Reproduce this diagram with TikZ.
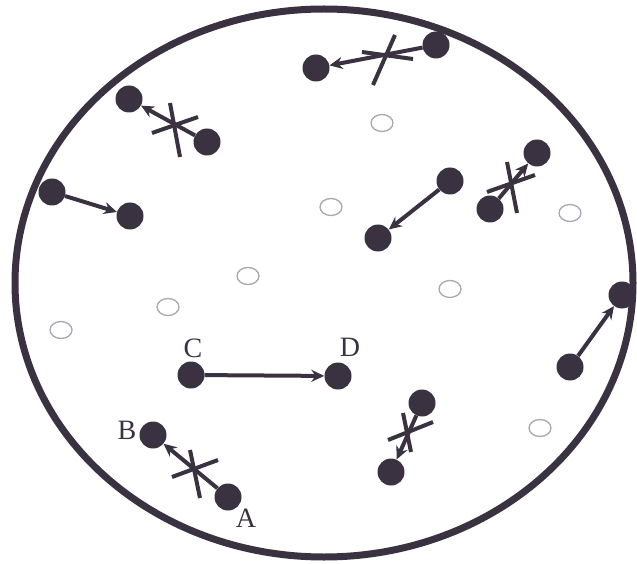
\documentclass[tikz,border=0pt]{standalone}
\usepackage{fontspec}
\setmainfont{Liberation Serif}
\usetikzlibrary{arrows.meta,shapes.geometric}
\definecolor{ink}{HTML}{3A3240}
\definecolor{hollow}{HTML}{A8A6B4}
\begin{document}
\begin{tikzpicture}[x=1pt,y=-1pt,
  dot/.style={circle,fill=ink,inner sep=0pt,minimum size=27pt},
  hole/.style={ellipse,draw=hollow,line width=1.3pt,inner sep=0pt,minimum width=22pt,minimum height=17pt},
  move/.style={draw=ink,line width=4pt,-{Stealth[length=13pt,width=12pt]}},
  cross/.style={draw=ink,line width=4pt},
  lab/.style={font=\fontsize{28}{28}\selectfont,text=ink,inner sep=0pt}]
\useasboundingbox (0,0) rectangle (637,564);
\fill[white] (0,0) rectangle (637,564);
\draw[ink,line width=7pt] (324,283) ellipse [x radius=309, y radius=274];
% hollow circles
\node[hole] (h1) at (382,123) {};
\node[hole] (h2) at (331,207) {};
\node[hole] (h3) at (570,213) {};
\node[hole] (h4) at (248,276) {};
\node[hole] (h5) at (168,307) {};
\node[hole] (h6) at (61,330) {};
\node[hole] (h7) at (450,289) {};
\node[hole] (h8) at (540,428) {};
% pair 1 (top)
\node[dot] (p1a) at (316,68) {};
\node[dot] (p1b) at (436,45) {};
\draw[move] (p1b) -- (p1a);
\draw[cross] (395,35) -- (373,85);
\draw[cross] (362,52) -- (413,59);
% pair 2 (upper left)
\node[dot] (p2a) at (129,99) {};
\node[dot] (p2b) at (207,142) {};
\draw[move] (p2b) -- (p2a);
\draw[cross] (170,103) -- (180,157);
\draw[cross] (152,133) -- (198,117);
% pair 3 (left)
\node[dot] (p3a) at (52,192) {};
\node[dot] (p3b) at (130,216) {};
\draw[move] (p3a) -- (p3b);
% pair 4 (middle)
\node[dot] (p4a) at (450,181) {};
\node[dot] (p4b) at (378,238) {};
\draw[move] (p4a) -- (p4b);
% pair 5 (right)
\node[dot] (p5a) at (537,153) {};
\node[dot] (p5b) at (490,209) {};
\draw[move] (p5b) -- (p5a);
\draw[cross] (507,162) -- (517,213);
\draw[cross] (487,192) -- (535,175);
% pair 6 (right edge)
\node[dot] (p6a) at (622,295) {};
\node[dot] (p6b) at (570,367) {};
\draw[move] (p6b) -- (p6a);
% C-D
\node[dot] (c) at (191,375) {};
\node[dot] (d) at (338,376) {};
\draw[move] (c) -- (d);
\node[lab] (lc) at (193,348) {C};
\node[lab] (ld) at (350,347) {D};
% A-B
\node[dot] (b) at (153,435) {};
\node[dot] (a) at (228,497) {};
\draw[move] (a) -- (b);
\draw[cross] (190,450) -- (200,498);
\draw[cross] (172,477) -- (218,460);
\node[lab] (lb) at (127,430) {B};
\node[lab] (la) at (246,518) {A};
% pair 9 (bottom middle)
\node[dot] (p9a) at (422,403) {};
\node[dot] (p9b) at (391,472) {};
\draw[move] (p9a) -- (p9b);
\draw[cross] (403,413) -- (411,452);
\draw[cross] (388,440) -- (433,422);
\end{tikzpicture}
\end{document}
